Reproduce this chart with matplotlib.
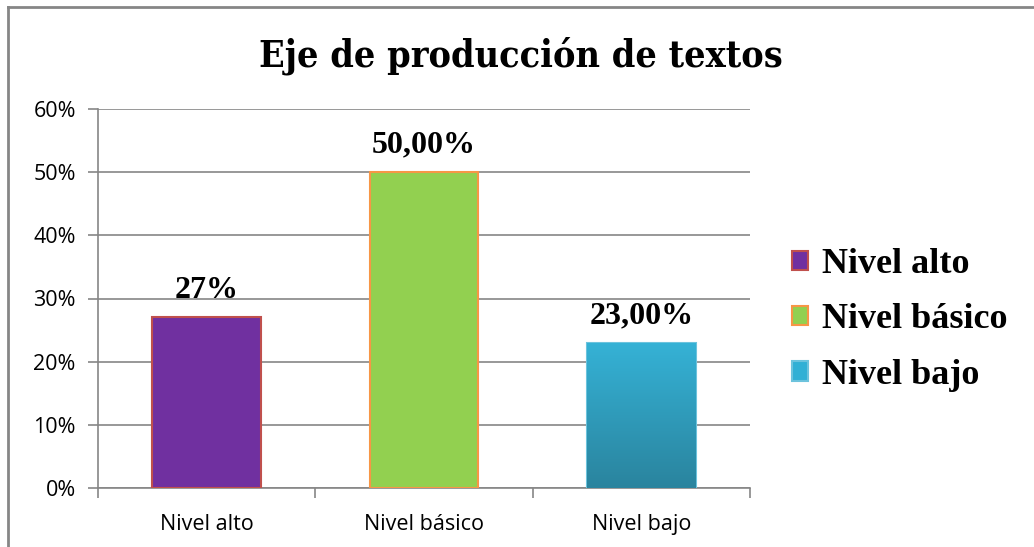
import numpy as np
import matplotlib
matplotlib.use('Agg')
from matplotlib import pyplot as plt
from matplotlib.lines import Line2D
from matplotlib.patches import Patch

# chart data
categories = ['Nivel alto', 'Nivel básico', 'Nivel bajo']
values = [0.27, 0.50, 0.23]
value_labels = ['27%', '50,00%', '23,00%']
y_ticks = [0.0, 0.1, 0.2, 0.3, 0.4, 0.5, 0.6]

face_colors = ['#7030A0', '#92D050', '#31B0D5']
edge_colors = ['#C0504D', '#F79646', '#6CC3DD']

fig = plt.figure(figsize=(10.34, 5.47), dpi=100)
ax = fig.add_axes([98 / 1034, 59 / 547, 652 / 1034, 379 / 547])

x = np.arange(len(categories))
bars = ax.bar(x, values, width=0.5, color=face_colors, edgecolor=edge_colors,
              linewidth=1.5, zorder=3)

# vertical gradient on the third bar, like the original
grad = np.linspace(0, 1, 256).reshape(-1, 1)
cmap = matplotlib.colors.LinearSegmentedColormap.from_list('blu', ['#2A849E', '#35B2D6'])
b = bars[2]
im = ax.imshow(grad, cmap=cmap, origin='lower', aspect='auto', zorder=3.5,
               extent=[b.get_x(), b.get_x() + b.get_width(), 0, b.get_height()])
im.set_clip_path(b)

ax.set_xlim(-0.5, 2.5)
ax.set_ylim(0, 0.6)
ax.set_yticks(y_ticks)
ax.set_yticklabels([f'{int(round(t * 100))}%' for t in y_ticks],
                   fontfamily='Open Sans', fontsize=15.5)
ax.set_xticks(x)
ax.set_xticklabels(categories, fontfamily='Open Sans', fontsize=15.5)
ax.tick_params(axis='x', length=0, pad=19)
ax.set_xticks([-0.5, 0.5, 1.5, 2.5], minor=True)
ax.tick_params(axis='x', which='minor', length=7, color='#868686', width=1.2)
ax.tick_params(axis='y', length=7, color='#868686', width=1.2, pad=9)

ax.grid(axis='y', color='#868686', linewidth=1.2, zorder=0)
for s in ['top', 'right']:
    ax.spines[s].set_visible(False)
for s in ['left', 'bottom']:
    ax.spines[s].set_color('#868686')
    ax.spines[s].set_linewidth(1.2)

for xi, v, lab in zip(x, values, value_labels):
    ax.text(xi, v + 0.02, lab, ha='center', va='bottom',
            fontfamily='Liberation Serif', fontweight='bold', fontsize=23)

fig.text(0.504, 0.898, 'Eje de producción de textos', ha='center', va='center',
         fontfamily='DejaVu Serif', fontstretch='condensed', fontweight='bold',
         fontsize=27)

handles = [Patch(facecolor=fc, edgecolor=ec, linewidth=1.5)
           for fc, ec in zip(face_colors, edge_colors)]
fig.legend(handles, categories, loc='center left', bbox_to_anchor=(792 / 1034, 0.415),
           frameon=False, borderpad=0, borderaxespad=0,
           prop={'family': 'Liberation Serif', 'weight': 'bold', 'size': 26},
           handlelength=0.45, handleheight=0.45, handletextpad=0.38, labelspacing=0.62)

# outer chart border (top and left edges visible)
fig.add_artist(Line2D([8 / 1034, 8 / 1034], [0, 1 - 7 / 547], transform=fig.transFigure,
                      color='#868686', linewidth=2))
fig.add_artist(Line2D([8 / 1034, 1], [1 - 7 / 547, 1 - 7 / 547], transform=fig.transFigure,
                      color='#868686', linewidth=2))

fig.savefig('out.png', dpi=100)
